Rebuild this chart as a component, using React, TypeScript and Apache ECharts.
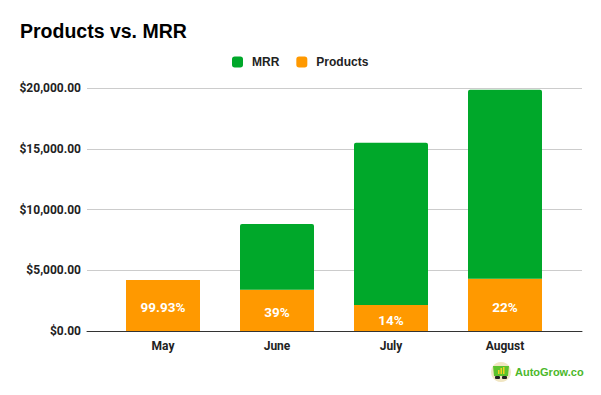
import React, { useEffect, useRef } from "react";
import * as echarts from "echarts";

const categories = ["May", "June", "July", "August"];
const productsValues = [4200, 3400, 2150, 4300];
const mrrValues = [3, 5400, 13350, 15550];
const productLabels = ["99.93%", "39%", "14%", "22%"];
const yTicks = [0, 5000, 10000, 15000, 20000];

const GREEN = "#00a82a";
const ORANGE = "#ff9900";

export default function App() {
  const ref = useRef<HTMLDivElement>(null);
  useEffect(() => {
    if (!ref.current) return;
    const chart = echarts.init(ref.current, undefined, { renderer: "svg" });
    const fmt = (v: number) =>
      "$" + v.toLocaleString("en-US", { minimumFractionDigits: 2, maximumFractionDigits: 2 });
    chart.setOption({
      animation: false,
      backgroundColor: "#ffffff",
      title: {
        text: "Products vs. MRR",
        left: 15,
        top: 16,
        textStyle: { fontFamily: "Liberation Sans", fontWeight: "bold", fontSize: 19.5, color: "#000" },
      },
      legend: {
        data: ["MRR", "Products"],
        left: 227,
        top: 51,
        itemWidth: 11,
        itemHeight: 11,
        itemGap: 17,
        icon: "roundRect",
        textStyle: {
          fontFamily: "Liberation Sans",
          fontWeight: "bold",
          fontSize: 12,
          color: "#222",
          padding: [0, 0, 0, 4],
        },
      },
      grid: [
        { left: 87, right: 19, top: 88, bottom: 64 },
        { left: 106, right: 39, top: 88, bottom: 64 },
      ],
      xAxis: [
        {
          gridIndex: 0,
          type: "category",
          data: categories,
          axisLine: { show: true, lineStyle: { color: "#333", width: 1 } },
          axisTick: { show: false },
          axisLabel: { show: false },
        },
        {
          gridIndex: 1,
          type: "category",
          data: categories,
          axisLine: { show: false },
          axisTick: { show: false },
          axisLabel: {
            margin: 9,
            fontFamily: "Roboto",
            fontWeight: "bold",
            fontSize: 12,
            color: "#222",
          },
        },
      ],
      yAxis: [
        {
          gridIndex: 0,
          type: "value",
          min: yTicks[0],
          max: yTicks[yTicks.length - 1],
          interval: 5000,
          axisLine: { show: false },
          axisTick: { show: false },
          splitLine: { lineStyle: { color: "#cccccc", width: 1 } },
          axisLabel: {
            margin: 6,
            formatter: (v: number) => fmt(v),
            fontFamily: "Roboto",
            fontWeight: "bold",
            fontSize: 12,
            color: "#222",
          },
        },
        {
          gridIndex: 1,
          type: "value",
          min: yTicks[0],
          max: yTicks[yTicks.length - 1],
          interval: 5000,
          show: false,
        },
      ],
      series: [
        {
          name: "Products",
          type: "bar",
          xAxisIndex: 1,
          yAxisIndex: 1,
          stack: "total",
          barWidth: 74,
          data: productsValues,
          itemStyle: { color: ORANGE },
          label: {
            show: true,
            position: "inside",
            offset: [0, 2],
            formatter: (p: any) => productLabels[p.dataIndex],
            color: "#fff",
            fontFamily: "Roboto",
            fontWeight: "bold",
            fontSize: 13.5,
          },
        },
        {
          name: "MRR",
          type: "bar",
          xAxisIndex: 1,
          yAxisIndex: 1,
          stack: "total",
          barWidth: 74,
          data: mrrValues,
          itemStyle: { color: GREEN, borderRadius: [2, 2, 0, 0] },
        },
      ],
      graphic: [
        { type: "circle", shape: { cx: 501, cy: 372, r: 10 }, style: { fill: "#f1e6c3" } },
        {
          type: "polygon",
          shape: { points: [[493, 366], [509, 366], [508, 376], [494, 376]] },
          style: { fill: "#5cc22c" },
        },
        { type: "rect", shape: { x: 498, y: 370, width: 1.5, height: 4 }, style: { fill: "#f5d020" } },
        { type: "rect", shape: { x: 500.5, y: 368, width: 1.5, height: 6 }, style: { fill: "#f5d020" } },
        { type: "rect", shape: { x: 503, y: 367, width: 1.5, height: 7 }, style: { fill: "#f5d020" } },
        { type: "rect", shape: { x: 495, y: 376, width: 5, height: 3, r: 1 }, style: { fill: "#222" } },
        { type: "rect", shape: { x: 502, y: 376, width: 5, height: 3, r: 1 }, style: { fill: "#222" } },
        {
          type: "text",
          x: 515,
          y: 372,
          style: {
            text: "AutoGrow.co",
            fill: "#4cb82b",
            fontFamily: "Liberation Sans",
            fontWeight: "bold",
            fontSize: 11,
            verticalAlign: "middle",
            align: "left",
          },
        },
      ],
    });
    return () => chart.dispose();
  }, []);
  return <div ref={ref} style={{ width: 601, height: 395, position: "absolute", left: 0, top: 0 }} />;
}
